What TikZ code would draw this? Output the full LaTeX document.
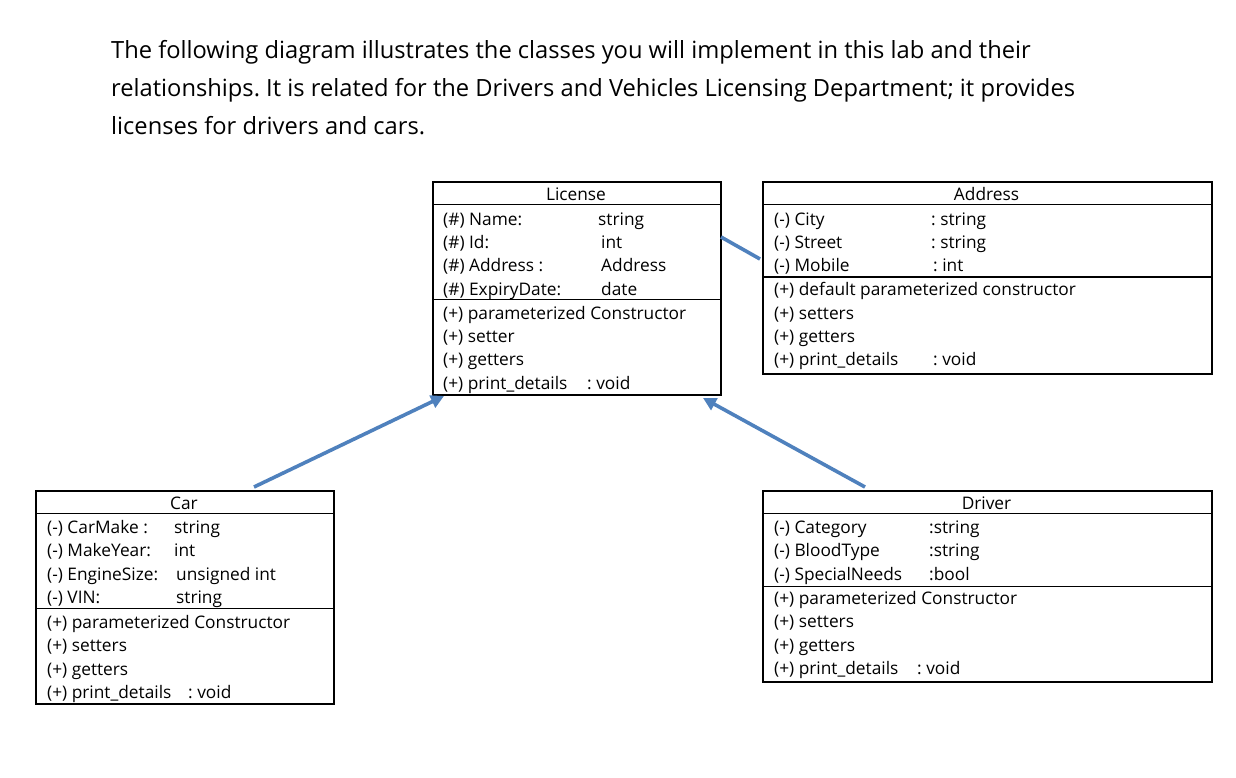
\documentclass[tikz,border=0pt]{standalone}
\usepackage{fontspec}
\setmainfont{Open Sans}
\usetikzlibrary{arrows.meta}
\definecolor{linkblue}{RGB}{79,129,189}
\frenchspacing
\begin{document}
\begin{tikzpicture}[x=1pt,y=-1pt,
  box/.style={draw=black,line width=1.6pt,anchor=north west,inner sep=0pt},
  sep/.style={draw=black,line width=1.6pt},
  txt/.style={anchor=base west,inner sep=0pt,font=\fontsize{17.3}{20}\selectfont,text=black},
  ttl/.style={anchor=base,inner sep=0pt,font=\fontsize{17.3}{20}\selectfont,text=black},
  head/.style={anchor=base west,inner sep=0pt,font=\fontsize{23.7}{28}\selectfont,text=black},
  link/.style={draw=linkblue,line width=3.6pt},
  arr/.style={link,-{Triangle[length=13pt,width=13pt]}}]
\useasboundingbox (0,0) rectangle (1236,777);
\fill[white] (0,0) rectangle (1236,777);

% heading
\node[head] (h1) at (111,58) {The following diagram illustrates the classes you will implement in this lab and their};
\node[head] (h2) at (111,96) {relationships. It is related for the Drivers and Vehicles Licensing Department; it provides};
\node[head] (h3) at (111,134) {licenses for drivers and cars.};

% License
\node[box,minimum width=288pt,minimum height=213pt] (license) at (432,181) {};
\draw[sep] (432,204.5) -- (720,204.5);
\draw[sep] (432,299.5) -- (720,299.5);
\node[ttl] (licT) at (576,200) {License};
\node[txt] (licA1) at (443,225) {(\#) Name:};
\node[txt] (licA1t) at (598,225) {string};
\node[txt] (licA2) at (443,248.4) {(\#) Id:};
\node[txt] (licA2t) at (601,248.4) {int};
\node[txt] (licA3) at (443,271.8) {(\#) Address :};
\node[txt] (licA3t) at (601,271.8) {Address};
\node[txt] (licA4) at (443,295.2) {(\#) ExpiryDate:};
\node[txt] (licA4t) at (601,295.2) {date};
\node[txt] (licM1) at (443,319) {(+) parameterized Constructor};
\node[txt] (licM2) at (443,342.4) {(+) setter};
\node[txt] (licM3) at (443,365.8) {(+) getters};
\node[txt] (licM4) at (443,389.2) {(+) print\_details};
\node[txt] (licM4t) at (587,389.2) {: void};

% Address
\node[box,minimum width=449pt,minimum height=192pt] (address) at (762,181) {};
\draw[sep] (762,204.5) -- (1211,204.5);
\draw[sep] (762,277) -- (1211,277);
\node[ttl] (adrT) at (986.5,200) {Address};
\node[txt] (adrA1) at (774,225) {(-) City};
\node[txt] (adrA1t) at (931,225) {: string};
\node[txt] (adrA2) at (774,248.4) {(-) Street};
\node[txt] (adrA2t) at (931,248.4) {: string};
\node[txt] (adrA3) at (774,271.8) {(-) Mobile};
\node[txt] (adrA3t) at (933,271.8) {: int};
\node[txt] (adrM1) at (774,295.7) {(+) default parameterized constructor};
\node[txt] (adrM2) at (774,319.1) {(+) setters};
\node[txt] (adrM3) at (774,342.5) {(+) getters};
\node[txt] (adrM4) at (774,365.9) {(+) print\_details};
\node[txt] (adrM4t) at (933,365.9) {: void};

% Car
\node[box,minimum width=298pt,minimum height=213pt] (car) at (35,490) {};
\draw[sep] (35,513.5) -- (333,513.5);
\draw[sep] (35,608.5) -- (333,608.5);
\node[ttl] (carT) at (184,509.3) {Car};
\node[txt] (carA1) at (47,533.5) {(-) CarMake :};
\node[txt] (carA1t) at (174,533.5) {string};
\node[txt] (carA2) at (47,556.9) {(-) MakeYear:};
\node[txt] (carA2t) at (174,556.9) {int};
\node[txt] (carA3) at (47,580.3) {(-) EngineSize:};
\node[txt] (carA3t) at (176,580.3) {unsigned int};
\node[txt] (carA4) at (47,603.7) {(-) VIN:};
\node[txt] (carA4t) at (176,603.7) {string};
\node[txt] (carM1) at (47,628.3) {(+) parameterized Constructor};
\node[txt] (carM2) at (47,651.7) {(+) setters};
\node[txt] (carM3) at (47,675.1) {(+) getters};
\node[txt] (carM4) at (47,698.5) {(+) print\_details};
\node[txt] (carM4t) at (188,698.5) {: void};

% Driver
\node[box,minimum width=449pt,minimum height=191pt] (driver) at (762,490) {};
\draw[sep] (762,513.5) -- (1211,513.5);
\draw[sep] (762,586.5) -- (1211,586.5);
\node[ttl] (drvT) at (986.5,509.3) {Driver};
\node[txt] (drvA1) at (774,533.5) {(-) Category};
\node[txt] (drvA1t) at (929,533.5) {:string};
\node[txt] (drvA2) at (774,556.9) {(-) BloodType};
\node[txt] (drvA2t) at (929,556.9) {:string};
\node[txt] (drvA3) at (774,580.3) {(-) SpecialNeeds};
\node[txt] (drvA3t) at (929,580.3) {:bool};
\node[txt] (drvM1) at (774,604.2) {(+) parameterized Constructor};
\node[txt] (drvM2) at (774,627.6) {(+) setters};
\node[txt] (drvM3) at (774,651) {(+) getters};
\node[txt] (drvM4) at (774,674.4) {(+) print\_details};
\node[txt] (drvM4t) at (917,674.4) {: void};

% connectors
\coordinate (carOut) at (254,487);
\coordinate (licInL) at (444,396);
\coordinate (drvOut) at (865,487);
\coordinate (licInR) at (703,398);
\coordinate (licSide) at (721,237);
\coordinate (adrSide) at (760,259);
\draw[arr] (carOut) -- (licInL);
\draw[arr] (drvOut) -- (licInR);
\draw[link] (licSide) -- (adrSide);
\end{tikzpicture}
\end{document}
